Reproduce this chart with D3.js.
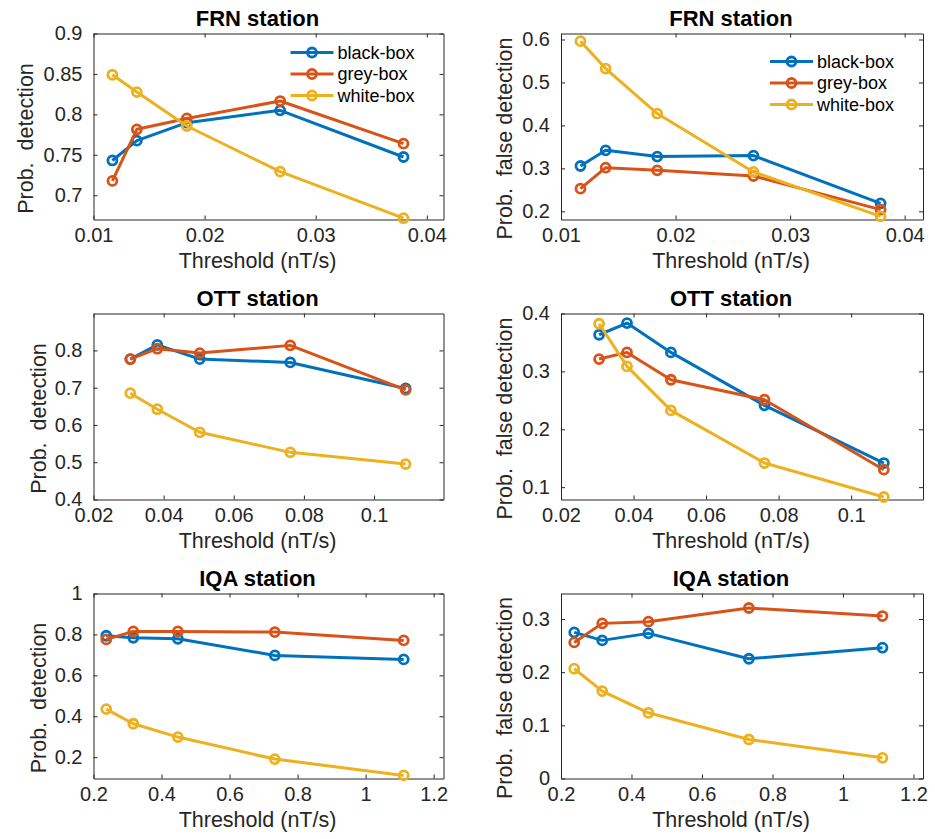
<!DOCTYPE html>
<html>
<head>
<meta charset="utf-8">
<script src="https://cdn.jsdelivr.net/npm/d3@7"></script>
<style>
  body { margin: 0; background: #fff; }
  svg { display: block; font-family: "Liberation Sans", Arial, Helvetica, sans-serif; }
  .tick-label { fill: #262626; font-size: 20px; }
  .axis-label { fill: #262626; font-size: 21.5px; }
  .title { fill: #000; font-size: 22px; font-weight: bold; }
  .legend-text { fill: #000; font-size: 18px; }
</style>
</head>
<body>
<div class="container"></div>
<script>
var WIDTH = 935;
var HEIGHT = 839;

// data
var models = ['black-box', 'grey-box', 'white-box'];
var colors = ['#0072BD', '#D95319', '#EDB120'];

var frnThreshold = [0.0117, 0.0139, 0.0184, 0.0268, 0.0379];
var ottThreshold = [0.0305, 0.0382, 0.0503, 0.0761, 0.1090];
var iqaThreshold = [0.2375, 0.3170, 0.4480, 0.7330, 1.1120];

var frnDetBlack = [0.743, 0.7675, 0.7897, 0.805, 0.7473];
var frnDetGrey  = [0.7177, 0.7815, 0.795, 0.8165, 0.7638];
var frnDetWhite = [0.849, 0.8276, 0.7856, 0.7292, 0.6716];

var frnFalseBlack = [0.3056, 0.342, 0.3274, 0.3297, 0.2186];
var frnFalseGrey  = [0.2528, 0.3017, 0.2955, 0.2823, 0.2039];
var frnFalseWhite = [0.5961, 0.5324, 0.4276, 0.2917, 0.1883];

var ottDetBlack = [0.7767, 0.815, 0.7767, 0.7677, 0.6978];
var ottDetGrey  = [0.7767, 0.8045, 0.7928, 0.8135, 0.6942];
var ottDetWhite = [0.6852, 0.6422, 0.5803, 0.5265, 0.4951];

var ottFalseBlack = [0.3633, 0.3835, 0.3328, 0.2413, 0.1417];
var ottFalseGrey  = [0.3213, 0.3328, 0.2856, 0.2511, 0.1302];
var ottFalseWhite = [0.3823, 0.3086, 0.2326, 0.1417, 0.0830];

var iqaDetBlack = [0.7935, 0.7837, 0.7788, 0.6974, 0.6778];
var iqaDetGrey  = [0.7756, 0.8147, 0.8147, 0.8114, 0.7707];
var iqaDetWhite = [0.435, 0.3633, 0.2982, 0.1906, 0.1108];

var iqaFalseBlack = [0.2749, 0.2598, 0.273, 0.2253, 0.246];
var iqaFalseGrey  = [0.256, 0.2918, 0.295, 0.3207, 0.3056];
var iqaFalseWhite = [0.2065, 0.1644, 0.1236, 0.0734, 0.0389];

// tick labels
var frnXTicks = [0.01, 0.02, 0.03, 0.04];
var ottXTicks = [0.02, 0.04, 0.06, 0.08, 0.1];
var iqaXTicks = [0.2, 0.4, 0.6, 0.8, 1, 1.2];
var frnDetTicks = [0.7, 0.75, 0.8, 0.85, 0.9];
var frnFalseTicks = [0.2, 0.3, 0.4, 0.5, 0.6];
var ottDetTicks = [0.4, 0.5, 0.6, 0.7, 0.8];
var ottFalseTicks = [0.1, 0.2, 0.3, 0.4];
var iqaDetTicks = [0.2, 0.4, 0.6, 0.8, 1];
var iqaFalseTicks = [0, 0.1, 0.2, 0.3];

var xLabel = 'Threshold (nT/s)';
var detLabel = 'Prob.  detection';
var falseLabel = 'Prob.  false detection';

// layout
var colLeft = [93.5, 561], colRight = [443.5, 923];
var rowTop = [33.5, 313.5, 593.5], rowBottom = [219.5, 499.5, 778.5];

var panels = [
  {row: 0, col: 0, title: 'FRN station', ylabel: detLabel, x: frnThreshold,
   series: [frnDetBlack, frnDetGrey, frnDetWhite], xDomain: [0.01, 0.0415], xTicks: frnXTicks,
   yDomain: [0.67, 0.9], yTicks: frnDetTicks, labelGap: 61, legend: 19},
  {row: 0, col: 1, title: 'FRN station', ylabel: falseLabel, x: frnThreshold,
   series: [frnFalseBlack, frnFalseGrey, frnFalseWhite], xDomain: [0.01, 0.0416], xTicks: frnXTicks,
   yDomain: [0.181, 0.614], yTicks: frnFalseTicks, labelGap: 49, legend: 28},
  {row: 1, col: 0, title: 'OTT station', ylabel: detLabel, x: ottThreshold,
   series: [ottDetBlack, ottDetGrey, ottDetWhite], xDomain: [0.02, 0.1198], xTicks: ottXTicks,
   yDomain: [0.4, 0.899], yTicks: ottDetTicks, labelGap: 48},
  {row: 1, col: 1, title: 'OTT station', ylabel: falseLabel, x: ottThreshold,
   series: [ottFalseBlack, ottFalseGrey, ottFalseWhite], xDomain: [0.02, 0.1198], xTicks: ottXTicks,
   yDomain: [0.0787, 0.4], yTicks: ottFalseTicks, labelGap: 49},
  {row: 2, col: 0, title: 'IQA station', ylabel: detLabel, x: iqaThreshold,
   series: [iqaDetBlack, iqaDetGrey, iqaDetWhite], xDomain: [0.2, 1.229], xTicks: iqaXTicks,
   yDomain: [0.0957, 1], yTicks: iqaDetTicks, labelGap: 48},
  {row: 2, col: 1, title: 'IQA station', ylabel: falseLabel, x: iqaThreshold,
   series: [iqaFalseBlack, iqaFalseGrey, iqaFalseWhite], xDomain: [0.2, 1.227], xTicks: iqaXTicks,
   yDomain: [0, 0.348], yTicks: iqaFalseTicks, labelGap: 49}
];

var translate = function (x, y) {
  return 'translate(' + x + ',' + y + ')';
};

var fmt = d3.format('~g');

var drawPanel = function (svg, p) {
  var left = colLeft[p.col], right = colRight[p.col];
  var top = rowTop[p.row], bottom = rowBottom[p.row];
  var w = right - left, h = bottom - top;

  var xScale = d3.scaleLinear().domain(p.xDomain).range([0, w]);
  var yScale = d3.scaleLinear().domain(p.yDomain).range([h, 0]);

  var g = svg.append('g').attr('transform', translate(left, top));

  // axes, ticks inward on all four sides like matlab's box
  var xAxis = d3.axisBottom(xScale).tickValues(p.xTicks).tickSizeInner(-4).tickSizeOuter(0).tickPadding(8).tickFormat(fmt);
  var yAxis = d3.axisLeft(yScale).tickValues(p.yTicks).tickSizeInner(-4).tickSizeOuter(0).tickPadding(11).tickFormat(fmt);
  var xTop = d3.axisTop(xScale).tickValues(p.xTicks).tickSizeInner(-4).tickSizeOuter(0).tickFormat('');
  var yRight = d3.axisRight(yScale).tickValues(p.yTicks).tickSizeInner(-4).tickSizeOuter(0).tickFormat('');

  var axes = [
    g.append('g').attr('transform', translate(0, h)).call(xAxis),
    g.append('g').call(yAxis),
    g.append('g').call(xTop),
    g.append('g').attr('transform', translate(w, 0)).call(yRight)
  ];
  axes.forEach(function (a) {
    a.attr('font-size', null).attr('font-family', null);
    a.selectAll('.domain').attr('stroke', '#262626');
    a.selectAll('.tick line').attr('stroke', '#262626');
    a.selectAll('.tick text').attr('class', 'tick-label').attr('fill', null);
  });

  var line = d3.line()
    .x(function (d) { return xScale(d.x); })
    .y(function (d) { return yScale(d.y); });

  p.series.forEach(function (vals, i) {
    var pts = vals.map(function (v, j) { return {x: p.x[j], y: v}; });
    g.append('path')
      .datum(pts)
      .attr('d', line)
      .attr('fill', 'none')
      .attr('stroke', colors[i])
      .attr('stroke-width', 3)
      .attr('stroke-linejoin', 'round');
    g.selectAll('circle.s' + i)
      .data(pts)
      .enter()
      .append('circle')
      .attr('class', 's' + i)
      .attr('cx', function (d) { return xScale(d.x); })
      .attr('cy', function (d) { return yScale(d.y); })
      .attr('r', 4.5)
      .attr('fill', 'none')
      .attr('stroke', colors[i])
      .attr('stroke-width', 2.8);
  });

  // title and labels
  g.append('text')
    .attr('class', 'title')
    .attr('x', w / 2 - 11)
    .attr('y', -8)
    .attr('text-anchor', 'middle')
    .text(p.title);

  g.append('text')
    .attr('class', 'axis-label')
    .attr('x', w / 2 - 11)
    .attr('y', h + 48)
    .attr('text-anchor', 'middle')
    .text(xLabel);

  g.append('text')
    .attr('class', 'axis-label')
    .attr('transform', translate(-p.labelGap, h / 2 + 12) + ' rotate(-90)')
    .attr('text-anchor', 'middle')
    .attr('xml:space', 'preserve')
    .style('white-space', 'pre')
    .text(p.ylabel);

  // legend
  if (p.legend !== undefined) {
    var lg = g.append('g').attr('transform', translate(w - 153, p.legend));
    models.forEach(function (m, i) {
      var row = lg.append('g').attr('transform', translate(0, i * 21.5));
      row.append('line')
        .attr('x1', 0).attr('x2', 43)
        .attr('stroke', colors[i])
        .attr('stroke-width', 3);
      row.append('circle')
        .attr('cx', 21.5)
        .attr('r', 4.5)
        .attr('fill', 'none')
        .attr('stroke', colors[i])
        .attr('stroke-width', 2.8);
      row.append('text')
        .attr('class', 'legend-text')
        .attr('x', 47)
        .attr('dy', '0.35em')
        .text(m);
    });
  }
};

var loadChart = function () {
  var svg = d3.select('.container').append('svg')
    .attr('width', WIDTH)
    .attr('height', HEIGHT);

  panels.forEach(function (p) {
    drawPanel(svg, p);
  });
};

window.onload = loadChart;
</script>
</body>
</html>
